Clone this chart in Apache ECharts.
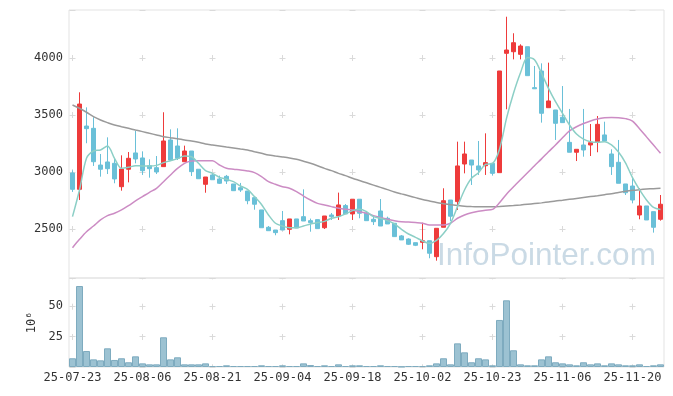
<!DOCTYPE html>
<html><head><meta charset="utf-8">
<script src="https://cdn.jsdelivr.net/npm/echarts@6/dist/echarts.min.js"></script>
<style>html,body{margin:0;padding:0;background:#fff}#c{width:673px;height:396px}</style>
</head><body><div id="c"></div>
<script>
const dates = ['25-07-23','25-07-24','25-07-25','25-07-28','25-07-29','25-07-30','25-07-31','25-08-01','25-08-04','25-08-05',
'25-08-06','25-08-07','25-08-08','25-08-11','25-08-12','25-08-13','25-08-14','25-08-18','25-08-19','25-08-20',
'25-08-21','25-08-22','25-08-25','25-08-26','25-08-27','25-08-28','25-08-29','25-09-01','25-09-02','25-09-03',
'25-09-04','25-09-05','25-09-08','25-09-09','25-09-10','25-09-11','25-09-12','25-09-15','25-09-16','25-09-17',
'25-09-18','25-09-19','25-09-22','25-09-23','25-09-24','25-09-25','25-09-26','25-09-29','25-09-30','25-10-01',
'25-10-02','25-10-10','25-10-13','25-10-14','25-10-15','25-10-16','25-10-17','25-10-20','25-10-21','25-10-22',
'25-10-23','25-10-24','25-10-27','25-10-28','25-10-29','25-10-30','25-10-31','25-11-03','25-11-04','25-11-05',
'25-11-06','25-11-07','25-11-10','25-11-11','25-11-12','25-11-13','25-11-14','25-11-17','25-11-18','25-11-19',
'25-11-20','25-11-21','25-11-24','25-11-25','25-11-26'];
const opens = [2991,2848,3403,3383,3061,3088,3076,2871,3024,3167,
3123,3055,3038,3047,3281,3228,3090,3184,3024,2892,
2974,2939,2962,2895,2862,2833,2775,2667,2515,2491,
2573,2497,2588,2608,2573,2582,2511,2623,2614,2705,
2632,2761,2638,2585,2658,2594,2550,2439,2412,2380,
2383,2397,2257,2515,2754,2740,3070,3105,3053,3055,
3076,2994,4041,4055,4032,4099,3740,3886,3564,3544,
3480,3260,3173,3237,3237,3266,3325,3158,3085,2895,
2877,2623,2702,2652,2585];
const closes = [2848,3596,3380,3090,3024,3029,2939,3026,3120,3114,
3011,3029,3000,3272,3105,3120,3184,3003,2941,2956,
2932,2901,2921,2836,2842,2748,2717,2511,2485,2468,
2491,2588,2509,2570,2556,2503,2614,2608,2711,2632,
2761,2638,2573,2564,2526,2544,2433,2404,2366,2357,
2397,2287,2506,2748,2612,3053,3158,3061,3018,3082,
2988,3886,4070,4134,4105,3845,3730,3515,3623,3427,
3433,3173,3199,3193,3257,3418,3272,3047,2901,2818,
2754,2702,2579,2515,2717];
const lows = [2825,2754,3252,3053,2959,2982,2901,2836,2909,3076,
2974,2950,2982,3047,3096,3105,3090,2965,2939,2818,
2932,2895,2895,2833,2825,2717,2669,2511,2485,2445,
2491,2453,2509,2570,2476,2503,2500,2579,2579,2632,
2579,2594,2573,2535,2526,2544,2430,2404,2360,2350,
2322,2243,2222,2515,2570,2667,2988,2886,2974,2974,
2968,2994,3550,3988,3988,3845,3730,3433,3564,3281,
3433,3173,3096,3134,3140,3173,3272,2974,2901,2798,
2725,2585,2579,2468,2573];
const highs = [3015,3699,3567,3480,3158,3304,3114,3146,3175,3362,
3181,3111,3140,3524,3374,3383,3231,3184,3024,2956,
2988,2968,2974,2895,2904,2833,2775,2667,2526,2491,
2658,2588,2588,2848,2591,2582,2614,2640,2819,2719,
2761,2761,2658,2608,2763,2608,2550,2447,2418,2380,
2555,2397,2506,2857,2754,3266,3266,3105,3272,3339,
3076,3886,4362,4217,4120,4099,3930,3953,3959,3544,
3754,3553,3199,3553,3421,3491,3441,3199,3281,2895,
2950,2857,2702,2652,2798];
const volumes = [7.2,66.8,13.2,6.3,5.5,15.4,5.8,7.2,3.9,8.8,
3.0,2.2,2.2,24.5,6.3,8.0,2.2,2.2,2.2,3.0,
0.8,0.8,1.4,0.8,0.8,0.8,0.8,1.4,0.8,0.8,
1.4,0.8,0.8,3.0,1.6,0.8,1.4,0.8,2.2,0.8,
1.4,1.4,0.8,0.8,1.4,0.8,0.8,0.3,0.8,0.8,
0.8,1.4,3.0,7.2,2.2,19.5,12.1,3.9,7.2,6.3,
1.4,38.8,55.0,13.8,2.2,1.4,1.4,6.3,8.8,3.9,
3.0,2.2,1.4,3.9,2.2,3.0,1.4,3.0,2.2,1.4,
1.4,2.2,0.8,1.4,2.2];
const ma5 = [2608,2842,3120,3184,3193,3228,3120,3032,3041,3055,
3053,3053,3058,3082,3099,3117,3140,3134,3076,3012,
2988,2953,2936,2915,2877,2848,2784,2715,2623,2550,
2526,2511,2511,2526,2544,2556,2567,2594,2608,2632,
2661,2673,2652,2608,2594,2573,2544,2497,2456,2427,
2395,2374,2400,2460,2550,2696,2842,2945,2994,3067,
3075,3200,3470,3690,3870,4005,3985,3866,3734,3617,
3515,3412,3333,3289,3266,3260,3266,3237,3175,3080,
2950,2845,2755,2690,2670];
const ma20 = [2336,2409,2476,2526,2579,2617,2638,2667,2705,2746,
2784,2822,2857,2915,2974,3032,3076,3096,3099,3099,
3099,3061,3032,3024,3018,3009,2994,2960,2915,2892,
2871,2857,2827,2789,2754,2725,2711,2696,2682,2673,
2667,2652,2638,2617,2600,2585,2573,2564,2561,2556,
2550,2535,2535,2535,2550,2594,2623,2643,2655,2665,
2672,2730,2805,2870,2932,2993,3055,3115,3177,3237,
3300,3360,3397,3425,3448,3465,3475,3478,3476,3468,
3447,3380,3308,3236,3164];
const ma60 = [3588,3559,3524,3485,3456,3433,3412,3397,3383,3368,
3354,3339,3325,3310,3301,3292,3281,3272,3260,3246,
3237,3228,3219,3211,3202,3193,3178,3164,3149,3140,
3132,3123,3111,3094,3076,3055,3032,3012,2988,2968,
2945,2925,2905,2885,2865,2845,2825,2808,2792,2775,
2758,2745,2732,2722,2713,2706,2700,2697,2695,2694,
2695,2698,2702,2706,2711,2717,2723,2729,2736,2745,
2752,2760,2768,2776,2784,2792,2801,2810,2821,2831,
2839,2845,2850,2854,2858];
const priceMin = 2070, priceMax = 4421;
const volMax = 73.4;
const volUnit = '10⁶';
const watermark = 'InfoPointer.com';

const FONT = 'DejaVu Sans Mono';
const candleData = opens.map((o, i) => [o, closes[i], lows[i], highs[i]]);
const UP = '#ee3b3b', DOWN = '#6ac0d8';
const crossColor = '#dadada';
const plain = v => String(Math.round(v));

const chart = echarts.init(document.getElementById('c'), null, {renderer: 'canvas'});
chart.setOption({
  animation: false,
  backgroundColor: '#fff',
  textStyle: {fontFamily: FONT},
  grid: [
    {left: 69, top: 10, width: 595, height: 268, show: true, borderColor: '#e3e3e3', borderWidth: 1, backgroundColor: 'transparent'},
    {left: 69, top: 278, width: 595, height: 89, show: true, borderColor: '#e3e3e3', borderWidth: 1, backgroundColor: 'transparent'}
  ],
  xAxis: [
    {type: 'category', data: dates, gridIndex: 0, boundaryGap: true,
     axisLabel: {show: false}, axisTick: {show: false}, axisLine: {show: false},
     splitLine: {show: true, interval: 9, alignWithLabel: true,
       lineStyle: {color: crossColor, width: 1, type: [6, 51], dashOffset: 12}}},
    {type: 'category', data: dates, gridIndex: 1, boundaryGap: true,
     axisLabel: {interval: 9, color: '#333', fontSize: 12, margin: 5, fontFamily: FONT},
     axisTick: {show: false}, axisLine: {show: false},
     splitLine: {show: true, interval: 9, alignWithLabel: true,
       lineStyle: {color: crossColor, width: 1, type: [6, 24.3], dashOffset: 4.6}}}
  ],
  yAxis: [
    {type: 'value', gridIndex: 0, min: priceMin, max: priceMax, scale: true,
     axisLabel: {color: '#333', fontSize: 12, margin: 6, showMinLabel: false, showMaxLabel: false, fontFamily: FONT, formatter: plain},
     axisTick: {show: false}, axisLine: {show: false},
     splitLine: {show: true, lineStyle: {color: crossColor, width: 1, type: [6, 64], dashOffset: 69.5}}},
    {type: 'value', gridIndex: 1, min: 0, max: volMax, interval: 25,
     name: volUnit, nameLocation: 'middle', nameRotate: 90, nameGap: 28,
     nameTextStyle: {color: '#333', fontSize: 12, fontFamily: FONT},
     axisLabel: {color: '#333', fontSize: 12, margin: 6, showMinLabel: false, showMaxLabel: false, fontFamily: FONT, formatter: plain},
     axisTick: {show: false}, axisLine: {show: false},
     splitLine: {show: true, lineStyle: {color: crossColor, width: 1, type: [6, 64], dashOffset: 69.5}}}
  ],
  series: [
    {type: 'candlestick', xAxisIndex: 0, yAxisIndex: 0, data: candleData, barWidth: 5,
     itemStyle: {color: UP, color0: DOWN, borderColor: UP, borderColor0: DOWN, borderWidth: 1}},
    {type: 'line', xAxisIndex: 0, yAxisIndex: 0, data: ma60, showSymbol: false, smooth: 0.3,
     lineStyle: {color: '#9a9a9a', width: 1.5}},
    {type: 'line', xAxisIndex: 0, yAxisIndex: 0, data: ma20, showSymbol: false, smooth: 0.3,
     lineStyle: {color: '#cc8cc4', width: 1.5}},
    {type: 'line', xAxisIndex: 0, yAxisIndex: 0, data: ma5, showSymbol: false, smooth: 0.3,
     lineStyle: {color: '#8ccfc6', width: 1.5}},
    {type: 'bar', xAxisIndex: 1, yAxisIndex: 1, data: volumes, barCategoryGap: '0%',
     itemStyle: {color: '#9cc2d2', borderColor: '#7eabbf', borderWidth: 1}}
  ],
  graphic: [
    {type: 'text', left: 437, top: 240, z: 100, silent: true,
     style: {text: watermark, font: '31.5px "Liberation Sans"', fill: 'rgba(150,182,204,0.5)'}}
  ]
});
</script>
</body></html>
